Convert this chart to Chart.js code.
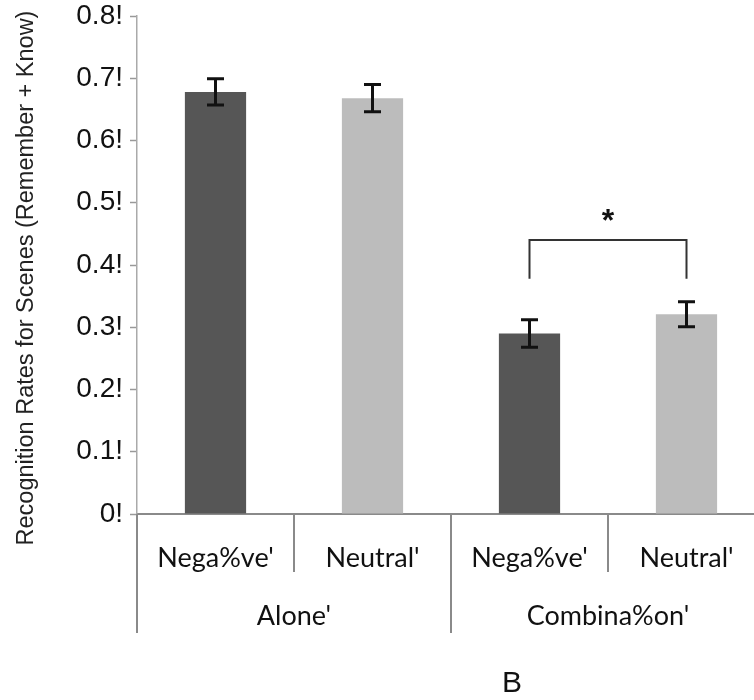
<!DOCTYPE html>
<html>
<head>
<meta charset="utf-8">
<script src="https://cdn.jsdelivr.net/npm/chart.js@4/dist/chart.umd.min.js"></script>
<style>
  html, body { margin: 0; padding: 0; background: #fff; overflow: hidden; }
  #wrap { width: 754px; height: 700px; overflow: hidden; position: relative; }
  canvas { display: block; }
</style>
</head>
<body>
<div id="wrap"><canvas id="chart" width="770" height="700"></canvas></div>
<script>
// data
const categories = ["Nega%ve'", "Neutral'", "Nega%ve'", "Neutral'"];
const groups = ["Alone'", "Combina%on'"];
const groupSize = 2;
const rates = [0.678, 0.668, 0.290, 0.321];
const errors = [0.021, 0.022, 0.022, 0.020];
const barColors = ['#565656', '#bcbcbc', '#565656', '#bcbcbc'];
const yTicks = [0, 0.1, 0.2, 0.3, 0.4, 0.5, 0.6, 0.7, 0.8];
const yTickLabels = ['0!', '0.1!', '0.2!', '0.3!', '0.4!', '0.5!', '0.6!', '0.7!', '0.8!'];
const yTitle = 'Recognition Rates for Scenes (Remember + Know)';
const panelLetter = 'B';
// significance bracket between bars 3 and 4
const bracketPair = [2, 3];
const bracketTop = 0.440;
const bracketFoot = 0.378;
const bracketMark = '*';

const extras = {
  id: 'extras',
  afterDatasetsDraw(chart) {
    const ctx = chart.ctx;
    const x = chart.scales.x, y = chart.scales.y;
    const area = chart.chartArea;
    ctx.save();

    // error bars
    ctx.strokeStyle = '#111';
    ctx.lineWidth = 3;
    rates.forEach((v, i) => {
      const cx = x.getPixelForValue(i);
      const top = y.getPixelForValue(v + errors[i]);
      const bot = y.getPixelForValue(v - errors[i]);
      ctx.beginPath();
      ctx.moveTo(cx, top); ctx.lineTo(cx, bot);
      ctx.moveTo(cx - 8.5, top); ctx.lineTo(cx + 8.5, top);
      ctx.moveTo(cx - 8.5, bot); ctx.lineTo(cx + 8.5, bot);
      ctx.stroke();
    });

    // bracket
    const bx1 = x.getPixelForValue(bracketPair[0]);
    const bx2 = x.getPixelForValue(bracketPair[1]);
    const bt = y.getPixelForValue(bracketTop);
    const bf = y.getPixelForValue(bracketFoot);
    ctx.strokeStyle = '#333';
    ctx.lineWidth = 2;
    ctx.beginPath();
    ctx.moveTo(bx1, bf); ctx.lineTo(bx1, bt); ctx.lineTo(bx2, bt); ctx.lineTo(bx2, bf);
    ctx.stroke();
    ctx.fillStyle = '#111';
    ctx.font = 'bold 32px "Liberation Sans", Arial, sans-serif';
    ctx.textAlign = 'center';
    ctx.textBaseline = 'middle';
    ctx.fillText(bracketMark, (bx1 + bx2) / 2, bt - 18);

    // category separators below axis
    const step = x.getPixelForValue(1) - x.getPixelForValue(0);
    ctx.strokeStyle = '#8a8a8a';
    ctx.lineWidth = 2;
    for (let i = 0; i <= categories.length; i++) {
      const sx = x.getPixelForValue(i) - step / 2;
      const long = i % groupSize === 0;
      ctx.beginPath();
      ctx.moveTo(sx, area.bottom);
      ctx.lineTo(sx, area.bottom + (long ? 119 : 58));
      ctx.stroke();
    }

    // group labels
    ctx.fillStyle = '#111';
    ctx.font = '27px Lato, "Open Sans", sans-serif';
    ctx.textBaseline = 'alphabetic';
    groups.forEach((g, gi) => {
      const first = x.getPixelForValue(gi * groupSize);
      const last = x.getPixelForValue(gi * groupSize + groupSize - 1);
      ctx.fillText(g, (first + last) / 2, area.bottom + 111);
    });

    // y title
    ctx.save();
    ctx.translate(27, 278);
    ctx.rotate(-Math.PI / 2);
    ctx.textBaseline = 'middle';
    ctx.fillStyle = '#222';
    ctx.font = '23.5px "Liberation Sans", Arial, sans-serif';
    ctx.fillText(yTitle, 0, 0);
    ctx.restore();

    // panel letter
    ctx.fillStyle = '#111';
    ctx.textBaseline = 'alphabetic';
    ctx.font = '30px "Liberation Sans", Arial, sans-serif';
    ctx.fillText(panelLetter, 512, 692);
    ctx.restore();
  }
};

new Chart(document.getElementById('chart'), {
  type: 'bar',
  data: {
    labels: categories,
    datasets: [{
      data: rates,
      backgroundColor: barColors,
      borderWidth: 0,
      barPercentage: 0.39,
      categoryPercentage: 1
    }]
  },
  options: {
    responsive: false,
    animation: false,
    layout: { padding: { top: 16, right: 5, left: 0, bottom: 0 } },
    plugins: { legend: { display: false }, tooltip: { enabled: false } },
    scales: {
      x: {
        offset: true,
        grid: { display: false, drawTicks: false },
        border: { display: true, color: '#8a8a8a', width: 2 },
        ticks: {
          color: '#111',
          padding: 28,
          maxRotation: 0,
          font: { family: 'Lato, "Open Sans", sans-serif', size: 27 }
        },
        afterFit(scale) { scale.height = 186; }
      },
      y: {
        min: 0,
        max: 0.8,
        afterBuildTicks(scale) { scale.ticks = yTicks.map(v => ({ value: v })); },
        grid: { drawOnChartArea: false, tickLength: 7, color: '#999', tickWidth: 1.5 },
        border: { display: true, color: '#aaa', width: 1.5 },
        ticks: {
          color: '#111',
          padding: 7,
          font: { family: '"Liberation Sans", Arial, sans-serif', size: 28 },
          callback(value, index) { return yTickLabels[index]; }
        },
        title: { display: false },
        afterFit(scale) { scale.width = 137; scale.paddingTop = 0; }
      }
    }
  },
  plugins: [extras]
});
</script>
</body>
</html>
